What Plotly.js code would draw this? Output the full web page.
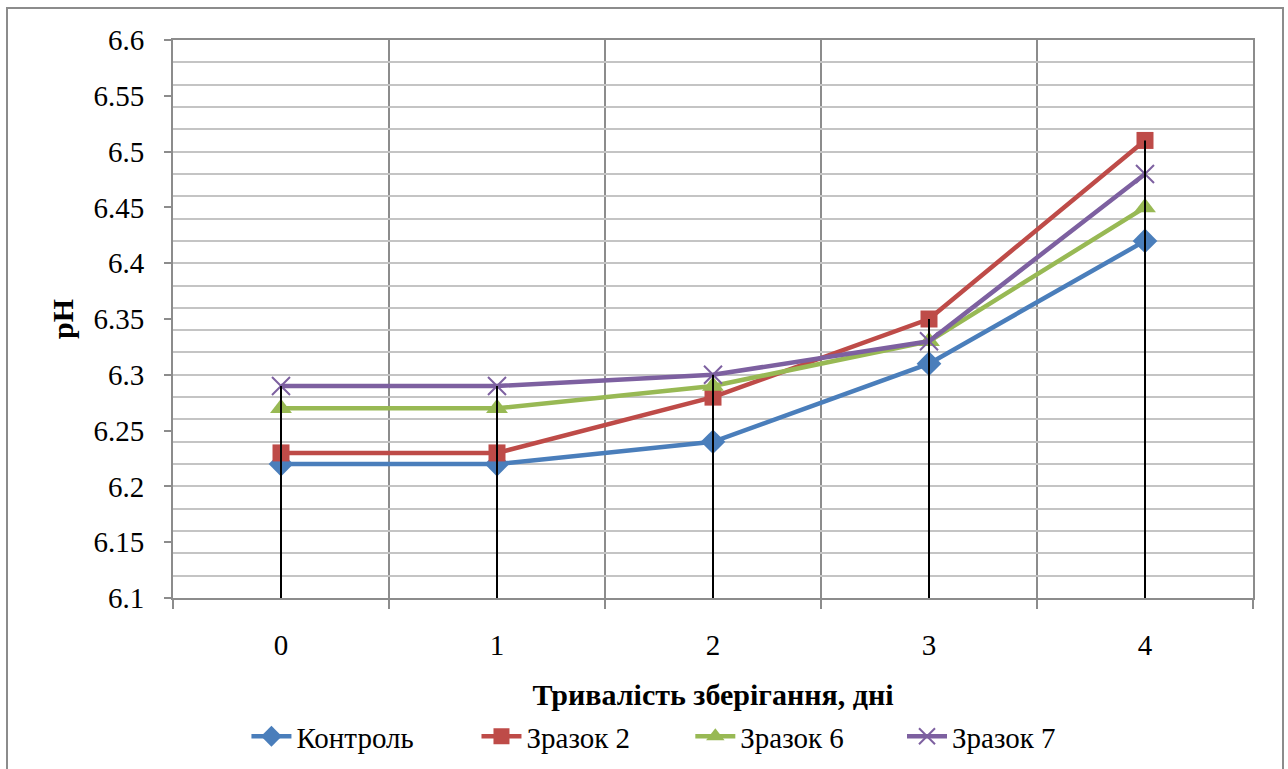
<!DOCTYPE html>
<html>
<head>
<meta charset="utf-8">
<script src="https://cdn.plot.ly/plotly-3.0.1.min.js"></script>
<style>
  body { margin: 0; background: #fff; }
  #wrap { position: relative; width: 1288px; height: 769px; overflow: hidden; background: #fff; }
  #chart { position: absolute; left: 0; top: 0; width: 1288px; height: 769px; }
  #frame { position: absolute; left: 6px; top: 7px; width: 1274px; height: 800px;
           border: 2px solid #8c8c8c; pointer-events: none; }
</style>
</head>
<body>
<div id="wrap"><div id="chart"></div><div id="frame"></div></div>
<script>
// Storage time, days
const days = [0, 1, 2, 3, 4];
const dayLabels = ['0', '1', '2', '3', '4'];

// pH of each sample
const control = [6.22, 6.22, 6.24, 6.31, 6.42];
const sample2 = [6.23, 6.23, 6.28, 6.35, 6.51];
const sample6 = [6.27, 6.27, 6.29, 6.33, 6.45];
const sample7 = [6.29, 6.29, 6.30, 6.33, 6.48];

const seriesNames = ['Контроль', 'Зразок 2', 'Зразок 6', 'Зразок 7'];

// Value axis
const yMin = 6.1, yMax = 6.6;
const yTickVals = [6.1, 6.15, 6.2, 6.25, 6.3, 6.35, 6.4, 6.45, 6.5, 6.55, 6.6];
const yTickText = ['6.1', '6.15', '6.2', '6.25', '6.3', '6.35', '6.4', '6.45', '6.5', '6.55', '6.6'];

const FONT = "'Times New Roman', 'Liberation Serif', 'DejaVu Serif', serif";
const AXIS_GREY = '#8c8c8c';

function series(name, ys, color, symbol, size, legendId, extra) {
  return Object.assign({
    type: 'scatter', mode: 'lines+markers', name: name,
    x: days, y: ys, xaxis: 'x', yaxis: 'y', legend: legendId,
    line: { color: color, width: 4.5 },
    marker: { symbol: symbol, size: size, color: color }
  }, extra || {});
}

const traces = [
  series(seriesNames[0], control, '#4a7ebb', 'diamond', 19, 'legend'),
  series(seriesNames[1], sample2, '#be4b48', 'square', 17, 'legend2'),
  series(seriesNames[2], sample6, '#98b954', 'triangle-up', 19, 'legend3'),
  series(seriesNames[3], sample7, '#7d60a0', 'x-thin-open', 18, 'legend4',
         { marker: { symbol: 'x-thin-open', size: 18, color: '#7d60a0', line: { color: '#7d60a0', width: 2 } } })
];

// Drop lines: from the highest point of each day down to the axis floor
const dropX = [], dropY = [];
days.forEach(function (d, i) {
  const top = Math.max(control[i], sample2[i], sample6[i], sample7[i]);
  dropX.push(d, d, null);
  dropY.push(top, yMin, null);
});
traces.push({
  type: 'scatter', mode: 'lines', x: dropX, y: dropY,
  xaxis: 'x', yaxis: 'y2', showlegend: false, hoverinfo: 'skip',
  line: { color: '#000', width: 2 }
});

// One legend box per series so the entries sit in a spread-out row
function legendAt(x) {
  return {
    orientation: 'h', x: x, xanchor: 'left', y: -0.248, yanchor: 'middle',
    font: { family: FONT, size: 29, color: '#000' },
    bgcolor: 'rgba(0,0,0,0)', itemwidth: 40
  };
}

const layout = {
  width: 1288, height: 769,
  margin: { l: 173, r: 35, t: 40, b: 171, autoexpand: false },
  paper_bgcolor: '#fff', plot_bgcolor: '#fff',
  font: { family: FONT, size: 29, color: '#000' },
  showlegend: true,
  legend: legendAt(0.068),
  legend2: legendAt(0.281),
  legend3: legendAt(0.479),
  legend4: legendAt(0.675),
  xaxis: {
    range: [-0.5, 4.5], tickvals: days, ticktext: dayLabels,
    ticks: '', showgrid: false, zeroline: false,
    showline: true, linecolor: AXIS_GREY, linewidth: 2, mirror: true,
    ticklabelstandoff: 20,
    tickfont: { family: FONT, size: 29 },
    minor: { tick0: -0.5, dtick: 1, ticks: 'outside', ticklen: 9,
             tickcolor: AXIS_GREY, tickwidth: 2,
             showgrid: true, gridcolor: AXIS_GREY, gridwidth: 2 },
    title: { text: '<b>Тривалість зберігання, дні</b>', standoff: 24,
             font: { family: FONT, size: 30 } }
  },
  yaxis: {
    range: [yMin, yMax], tick0: yMin, dtick: 0.02,
    showgrid: true, gridcolor: '#c4c4c4', gridwidth: 2,
    showticklabels: false, ticks: '', zeroline: false,
    showline: true, linecolor: AXIS_GREY, linewidth: 2, mirror: true
  },
  yaxis2: {
    overlaying: 'y', side: 'left', range: [yMin, yMax],
    tickmode: 'array', tickvals: yTickVals, ticktext: yTickText,
    ticks: 'outside', ticklen: 8, tickcolor: AXIS_GREY, tickwidth: 2,
    showgrid: false, zeroline: false, showline: false,
    ticklabelstandoff: 14,
    tickfont: { family: FONT, size: 29 },
    title: { text: '<b>pH</b>', standoff: 10, font: { family: FONT, size: 30 } }
  }
};

Plotly.newPlot('chart', traces, layout, { staticPlot: true, displayModeBar: false });
</script>
</body>
</html>
